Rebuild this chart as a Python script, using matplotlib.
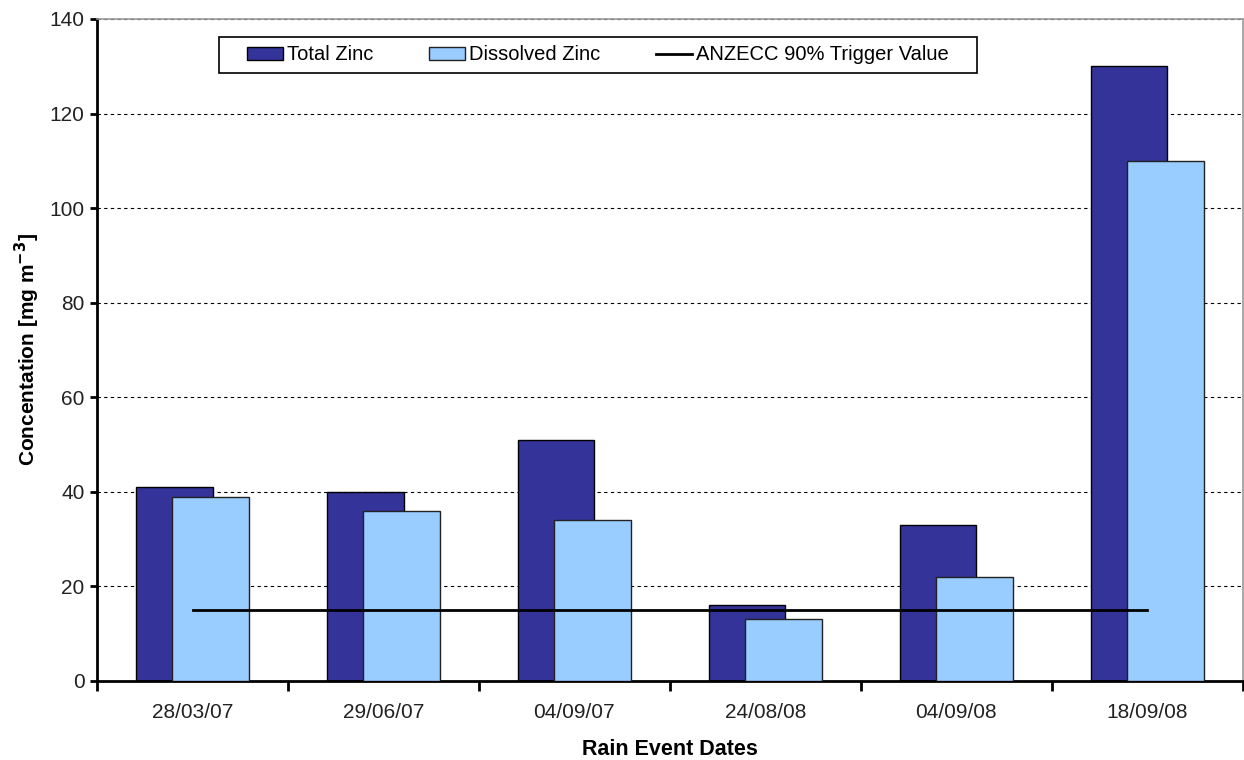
import numpy as np
import matplotlib
matplotlib.use('Agg')
import matplotlib.pyplot as plt
from matplotlib.patches import Rectangle
from matplotlib.ticker import FixedLocator

plt.rcParams['font.family'] = ['Liberation Sans', 'DejaVu Sans']

# rain event data
dates = ['28/03/07', '29/06/07', '04/09/07', '24/08/08', '04/09/08', '18/09/08']
total_zinc = [41, 40, 51, 16, 33, 130]
dissolved_zinc = [39, 36, 34, 13, 22, 110]
trigger_value = 15

x = np.arange(len(dates))
bar_w = 0.4
shift = 0.095

fig = plt.figure(figsize=(12.44, 7.6), dpi=100)
ax = fig.add_axes([0.078, 0.104, 0.921, 0.871])

b1 = ax.bar(x - shift, total_zinc, bar_w, color='#333399', edgecolor='black',
            linewidth=1, label='Total Zinc', zorder=2)
b2 = ax.bar(x + shift, dissolved_zinc, bar_w, color='#99CCFF', edgecolor='#222222',
            linewidth=1, label='Dissolved Zinc', zorder=3)
ln, = ax.plot([x[0], x[-1]], [trigger_value, trigger_value], color='black', lw=2,
              label='ANZECC 90% Trigger Value', zorder=4)

ax.set_xlim(-0.5, len(dates) - 0.5)
ax.set_ylim(0, 140)
ax.set_yticks(np.arange(0, 141, 20))
ax.yaxis.grid(True, color='black', linestyle=(0, (3, 3)), linewidth=0.8, zorder=0)
ax.set_axisbelow(True)

ax.set_xticks(x)
ax.set_xticklabels(dates)
ax.xaxis.set_minor_locator(FixedLocator(np.arange(-0.5, len(dates), 1.0)))
ax.tick_params(axis='x', which='major', length=0, pad=16, labelsize=15)
ax.tick_params(axis='x', which='minor', length=7, width=2, direction='out')
ax.tick_params(axis='y', length=5, width=2, direction='out', pad=4, labelsize=15)
ax.tick_params(axis='both', labelcolor='#222222', color='black')

for side in ['left', 'bottom']:
    ax.spines[side].set_linewidth(2)
    ax.spines[side].set_color('black')
for side in ['top', 'right']:
    ax.spines[side].set_linewidth(1.2)
    ax.spines[side].set_color('#999999')

ax.set_xlabel('Rain Event Dates', fontsize=15.5, fontweight='bold', labelpad=12)
ax.set_ylabel('Concentation [mg m$^{\\mathbf{-3}}$]', fontsize=15,
              fontweight='bold', labelpad=5)

# legend box with wide side padding, entries centred inside it
box_l, box_r, box_t, box_b = 219, 977, 37, 73
frame = Rectangle((box_l / 1244, 1 - box_b / 760), (box_r - box_l) / 1244,
                  (box_b - box_t) / 760, transform=fig.transFigure,
                  facecolor='white', edgecolor='black', linewidth=1.2, zorder=5)
ax.add_patch(frame)
leg = ax.legend(handles=[b1, b2, ln], loc='center',
                bbox_to_anchor=((box_l + box_r) / 2 / 1244, 1 - (box_t + box_b) / 2 / 760),
                bbox_transform=fig.transFigure, ncol=3, fontsize=14.5,
                frameon=False, handlelength=1.8, handleheight=0.6,
                handletextpad=0.2, columnspacing=2.75, borderpad=0, borderaxespad=0)
leg.set_zorder(6)

fig.savefig('out.png', dpi=100)
